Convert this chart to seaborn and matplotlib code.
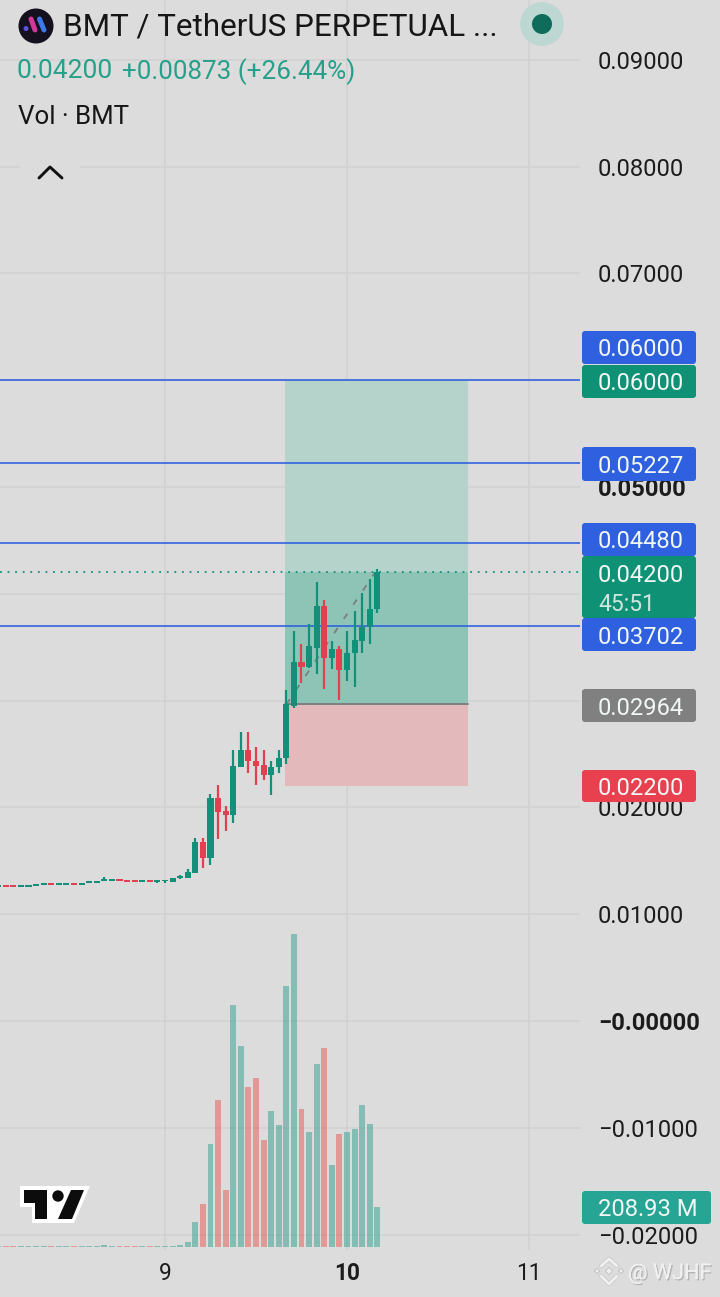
import numpy as np
import pandas as pd
import matplotlib
matplotlib.use("Agg")
import matplotlib.pyplot as plt
import seaborn as sns
from matplotlib.patches import Circle, FancyBboxPatch, Polygon, Rectangle
from matplotlib.lines import Line2D
from matplotlib.transforms import Affine2D
import matplotlib.patheffects as pe

# ---------- data ----------
hours = list(range(-22, 29))
opens = [.01257, .01270, .01270, .01254, .01254, .01263, .01272, .01288, .01272, .01272, .01288, .01272, .01291, .01291,
         .01313, .01313, .01329, .01319, .01319, .01303, .01319, .01303,
         .01308, .01302, .01339, .01339, .01386, .01676, .01523, .02087, .01965, .01925, .02374, .02533, .02439, .02393,
         .02299, .02374, .02458, .02953, .03364, .03318, .03495, .03888, .03402, .03486, .03290, .03449, .03561, .03692, .03860]
closes = [.01273, .01254, .01254, .01270, .01270, .01279, .01288, .01272, .01288, .01288, .01272, .01288, .01307, .01307,
          .01329, .01329, .01313, .01303, .01303, .01319, .01303, .01319,
          .01324, .01336, .01355, .01395, .01676, .01526, .02087, .01956, .01928, .02383, .02533, .02430, .02383, .02299,
          .02374, .02458, .02972, .03364, .03318, .03514, .03888, .03402, .03486, .03290, .03449, .03570, .03692, .03860, .04200]
highs = [.01273, .01270, .01270, .01270, .01270, .01279, .01288, .01288, .01288, .01288, .01288, .01288, .01307, .01307,
         .01345, .01329, .01329, .01319, .01319, .01319, .01319, .01319,
         .01324, .01336, .01364, .01421, .01710, .01710, .02121, .02206, .02009, .02542, .02710, .02710, .02561, .02542,
         .02430, .02542, .03103, .03654, .03533, .03720, .04112, .03944, .03561, .03514, .03654, .03841, .04009, .04140, .04230]
lows = [.01257, .01254, .01254, .01254, .01254, .01263, .01272, .01272, .01272, .01272, .01272, .01272, .01291, .01291,
        .01313, .01313, .01313, .01303, .01303, .01303, .01303, .01296,
        .01296, .01302, .01330, .01339, .01386, .01430, .01458, .01701, .01779, .01853, .02374, .02318, .02206, .02252,
        .02112, .02318, .02411, .02935, .03168, .03308, .03252, .03112, .03299, .03009, .03187, .03131, .03449, .03533, .03820]
volumes = [6, 6, 6, 6, 6, 6, 6, 6, 6, 6, 6, 6, 6, 6, 9, 6, 6, 6, 6, 6, 6, 6,
           6, 7, 9, 26, 131, 223, 536, 766, 296, 1262, 1048, 836, 881, 557,
           709, 635, 1363, 1633, 719, 599, 954, 1038, 427, 588, 599, 615, 740, 641, 209]
level_prices = [0.06000, 0.05227, 0.04480, 0.03702]
target_price, entry_price, stop_price, last_price = 0.06000, 0.02964, 0.02200, 0.04200
y_ticks = [0.09, 0.08, 0.07, 0.06, 0.05, 0.04, 0.03, 0.02, 0.01, 0.0, -0.01, -0.02]
y_tick_labels = ["0.09000", "0.08000", "0.07000", "", "0.05000", "", "", "0.02000", "0.01000", "−0.00000", "−0.01000", "−0.02000"]
bold_ticks = ["0.05000", "−0.00000"]
day_hours = [0, 24, 48]
day_labels = ["9", "10", "11"]

BG = "#dcdcdc"
GRID = "#d1d1d1"
GREEN = "#12907a"
RED = "#e0404f"
VOL_GREEN = "#309e8e"
VOL_RED = "#e25854"
BLUE = "#2a5fe0"
FONT = "Roboto"

W, H = 720, 1297
sns.set_theme(style="white", rc={"figure.facecolor": BG, "axes.facecolor": BG, "font.family": FONT})
fig = plt.figure(figsize=(W / 100, H / 100), dpi=100)
BOTTOM = 1250
RIGHT = 580
ax = fig.add_axes([0, 1 - BOTTOM / H, RIGHT / W, BOTTOM / H])
px = Affine2D().scale(1 / W, -1 / H).translate(0, 1) + fig.transFigure

# volume: translucent, in an overlay that lets the grid show through
df = pd.DataFrame({"hour": hours, "volume": volumes,
                   "dir": ["up" if c >= o else "down" for o, c in zip(opens, closes)]})
axv = ax.twinx()
sns.barplot(data=df, x="hour", y="volume", hue="dir", palette={"up": VOL_GREEN, "down": VOL_RED},
            native_scale=True, dodge=False, width=0.78, legend=False, ax=axv, saturation=1, linewidth=0, alpha=0.5)
axv.set_ylim(-15.7, 6509)
axv.axis("off")
axv.patch.set_visible(False)

# position zones
xz0, xz1 = 15.82, 39.96
ax.add_patch(Rectangle((xz0, entry_price), xz1 - xz0, target_price - entry_price, fc="#b5d3cb", ec="none", zorder=1))
ax.add_patch(Rectangle((xz0, entry_price), xz1 - xz0, last_price - entry_price, fc="#8ec4b6", ec="none", zorder=1.1))
ax.add_patch(Rectangle((xz0, stop_price), xz1 - xz0, entry_price - stop_price, fc="#e3b9bb", ec="none", zorder=1))
ax.plot([xz0, xz1], [entry_price, entry_price], color="#7f7f7f", lw=1.4, zorder=1.5)
ax.plot([hours[-13], hours[-1] - 0.3], [entry_price, last_price], color="#7d7d7d", lw=1.3,
        dashes=(3.5, 6), zorder=1.6)

# candles
colors = [GREEN if c >= o else RED for o, c in zip(opens, closes)]
ax.vlines(hours, lows, highs, colors=colors, lw=1.6, zorder=3)
ax.bar(hours, [abs(c - o) for o, c in zip(opens, closes)], bottom=[min(o, c) for o, c in zip(opens, closes)],
       width=0.8, color=colors, linewidth=0, zorder=3.1)

# levels
for p in level_prices:
    ax.axhline(p, color=BLUE, lw=1.15, zorder=2.5)
ax.axhline(last_price, color=GREEN, lw=1.3, dashes=(1, 3.2), zorder=2.5)

# axes
ax.set_xlim((0 - 165) / 7.583, (RIGHT - 165) / 7.583)
ax.set_ylim((1021 - BOTTOM) / 10680, 1021 / 10680)
ax.set_yticks(y_ticks)
ax.set_yticklabels(y_tick_labels)
ax.yaxis.tick_right()
ax.set_xticks(day_hours)
ax.set_xticklabels(day_labels)
ax.tick_params(axis="y", length=0, pad=13, labelsize=17.1, labelcolor="#1c1c1c")
ax.tick_params(axis="x", length=0, pad=8.5, labelsize=16.3, labelcolor="#1c1c1c")
for t in ax.get_yticklabels():
    if t.get_text() in bold_ticks:
        t.set_fontweight("bold")
for t in ax.get_xticklabels():
    if t.get_text() == "10":
        t.set_fontweight("bold")
ax.grid(True, color=GRID, lw=1.1, zorder=0)
ax.set_axisbelow(True)
for s in ax.spines.values():
    s.set_visible(False)
ax.set_xlabel("")
ax.set_ylabel("")

# helpers in pixel space
def add(a, z=5):
    a.set_transform(px)
    a.set_zorder(z)
    fig.add_artist(a)

def label(x0, x1, y0, y1, color, text, yt=None, size=17.1, fg="#f1f7f5"):
    add(FancyBboxPatch((x0 + 3, y0 + 3), x1 - x0 - 6, y1 - y0 - 6, boxstyle="round,pad=3,rounding_size=3", fc=color, ec="none"))
    fig.text((x0 + 16) / W, 1 - (yt if yt else (y0 + y1) / 2) / H, text, color=fg, fontsize=size,
             va="center_baseline", ha="left", zorder=6)

label(582, 696, 331, 364, "#2e60e0", "0.06000")
label(582, 696, 365, 398, "#0f9176", "0.06000")
label(582, 696, 447, 481, "#2e60e0", "0.05227")
label(582, 696, 523, 556, "#2e60e0", "0.04480")
label(582, 696, 556, 618, "#0f9176", "0.04200", yt=573)
fig.text(598 / W, 1 - 602 / H, "45:51", color="#cfe6df", fontsize=16.4, va="center_baseline", ha="left", zorder=6)
label(582, 696, 618, 651, "#2e60e0", "0.03702")
label(582, 696, 689, 722, "#808080", "0.02964")
label(582, 696, 770, 802, "#e8404f", "0.02200")
label(582, 711, 1191, 1224, "#27a594", "208.93 M")

# header
fig.text(63 / W, 1 - 24.5 / H, "BMT / TetherUS PERPETUAL ...", fontsize=22.6, color="#161616", va="center_baseline", ha="left", zorder=6)
fig.text(16 / W, 1 - 68.5 / H, "0.04200", fontsize=19, color="#26a08a", va="center_baseline", ha="left", zorder=6)
fig.text(122 / W, 1 - 68.5 / H, "+0.00873 (+26.44%)", fontsize=18.7, color="#26a08a", va="center_baseline", ha="left", zorder=6)
fig.text(18 / W, 1 - 114.5 / H, "Vol · BMT", fontsize=18.6, color="#161616", va="center_baseline", ha="left", zorder=6)

# logo
add(Circle((36, 26), 17.5, fc="#14101e", ec="none"))
for (x0, y0, x1, y1, c) in [(26, 28.5, 26.1, 28.6, "#5a55e0"), (31, 19, 35, 30, "#d2389a"), (39.5, 19, 44, 30, "#3f78e8")]:
    fig.add_artist(Line2D([x0, x1], [y0, y1], color=c, lw=3.6, solid_capstyle="round", transform=px, zorder=6))
add(Circle((542, 24), 22, fc="#bdd8d2", ec="none"))
add(Circle((542, 24), 10, fc="#0f6b5a", ec="none"))

# chevron
add(FancyBboxPatch((24, 155), 52, 36, boxstyle="round,pad=4,rounding_size=6", fc=BG, ec="none"), z=4)
fig.add_artist(Line2D([39, 50, 62], [178, 167, 178], color="#111111", lw=2.1, transform=px, zorder=6))

# TradingView mark
add(Polygon([(20, 1186), (90, 1186), (74, 1223), (32, 1223), (32, 1207), (20, 1207)], fc="white", ec="none"))
add(Polygon([(24, 1190), (47, 1190), (47, 1219), (35, 1219), (35, 1203), (24, 1203)], fc="#0c0c0c", ec="none"), z=5.1)
add(Circle((58, 1196), 5.7, fc="#0c0c0c", ec="none"), z=5.1)
add(Polygon([(84, 1190), (72, 1219), (58, 1219), (71, 1190)], fc="#0c0c0c", ec="none"), z=5.1)

# watermark
shadow = [pe.withSimplePatchShadow(offset=(1, -1), shadow_rgbFace="#a9a9a9", alpha=0.8), pe.Normal()]
fig.text(628 / W, 1 - 1271 / H, "@ WJHF", fontsize=15.6, color="#f0f0f0", va="center_baseline", ha="left", zorder=6, path_effects=shadow)
strokes = [pe.withStroke(linewidth=2.8, foreground="#c2c2c2")]
for xs, ys in [([601, 609, 617], [1266, 1259, 1266]), ([601, 609, 617], [1276, 1284, 1276])]:
    fig.add_artist(Line2D(xs, ys, color="#f0f0f0", lw=2.0, transform=px, zorder=6, path_effects=strokes))
for cx, cy, r in [(597, 1271, 2.6), (621, 1271, 2.6), (609, 1271, 3.6)]:
    add(Polygon([(cx - r, cy), (cx, cy - r), (cx + r, cy), (cx, cy + r)], fc="#f0f0f0", ec="#bdbdbd", lw=0.6), z=6)

fig.savefig("out.png", dpi=100, facecolor=BG)
